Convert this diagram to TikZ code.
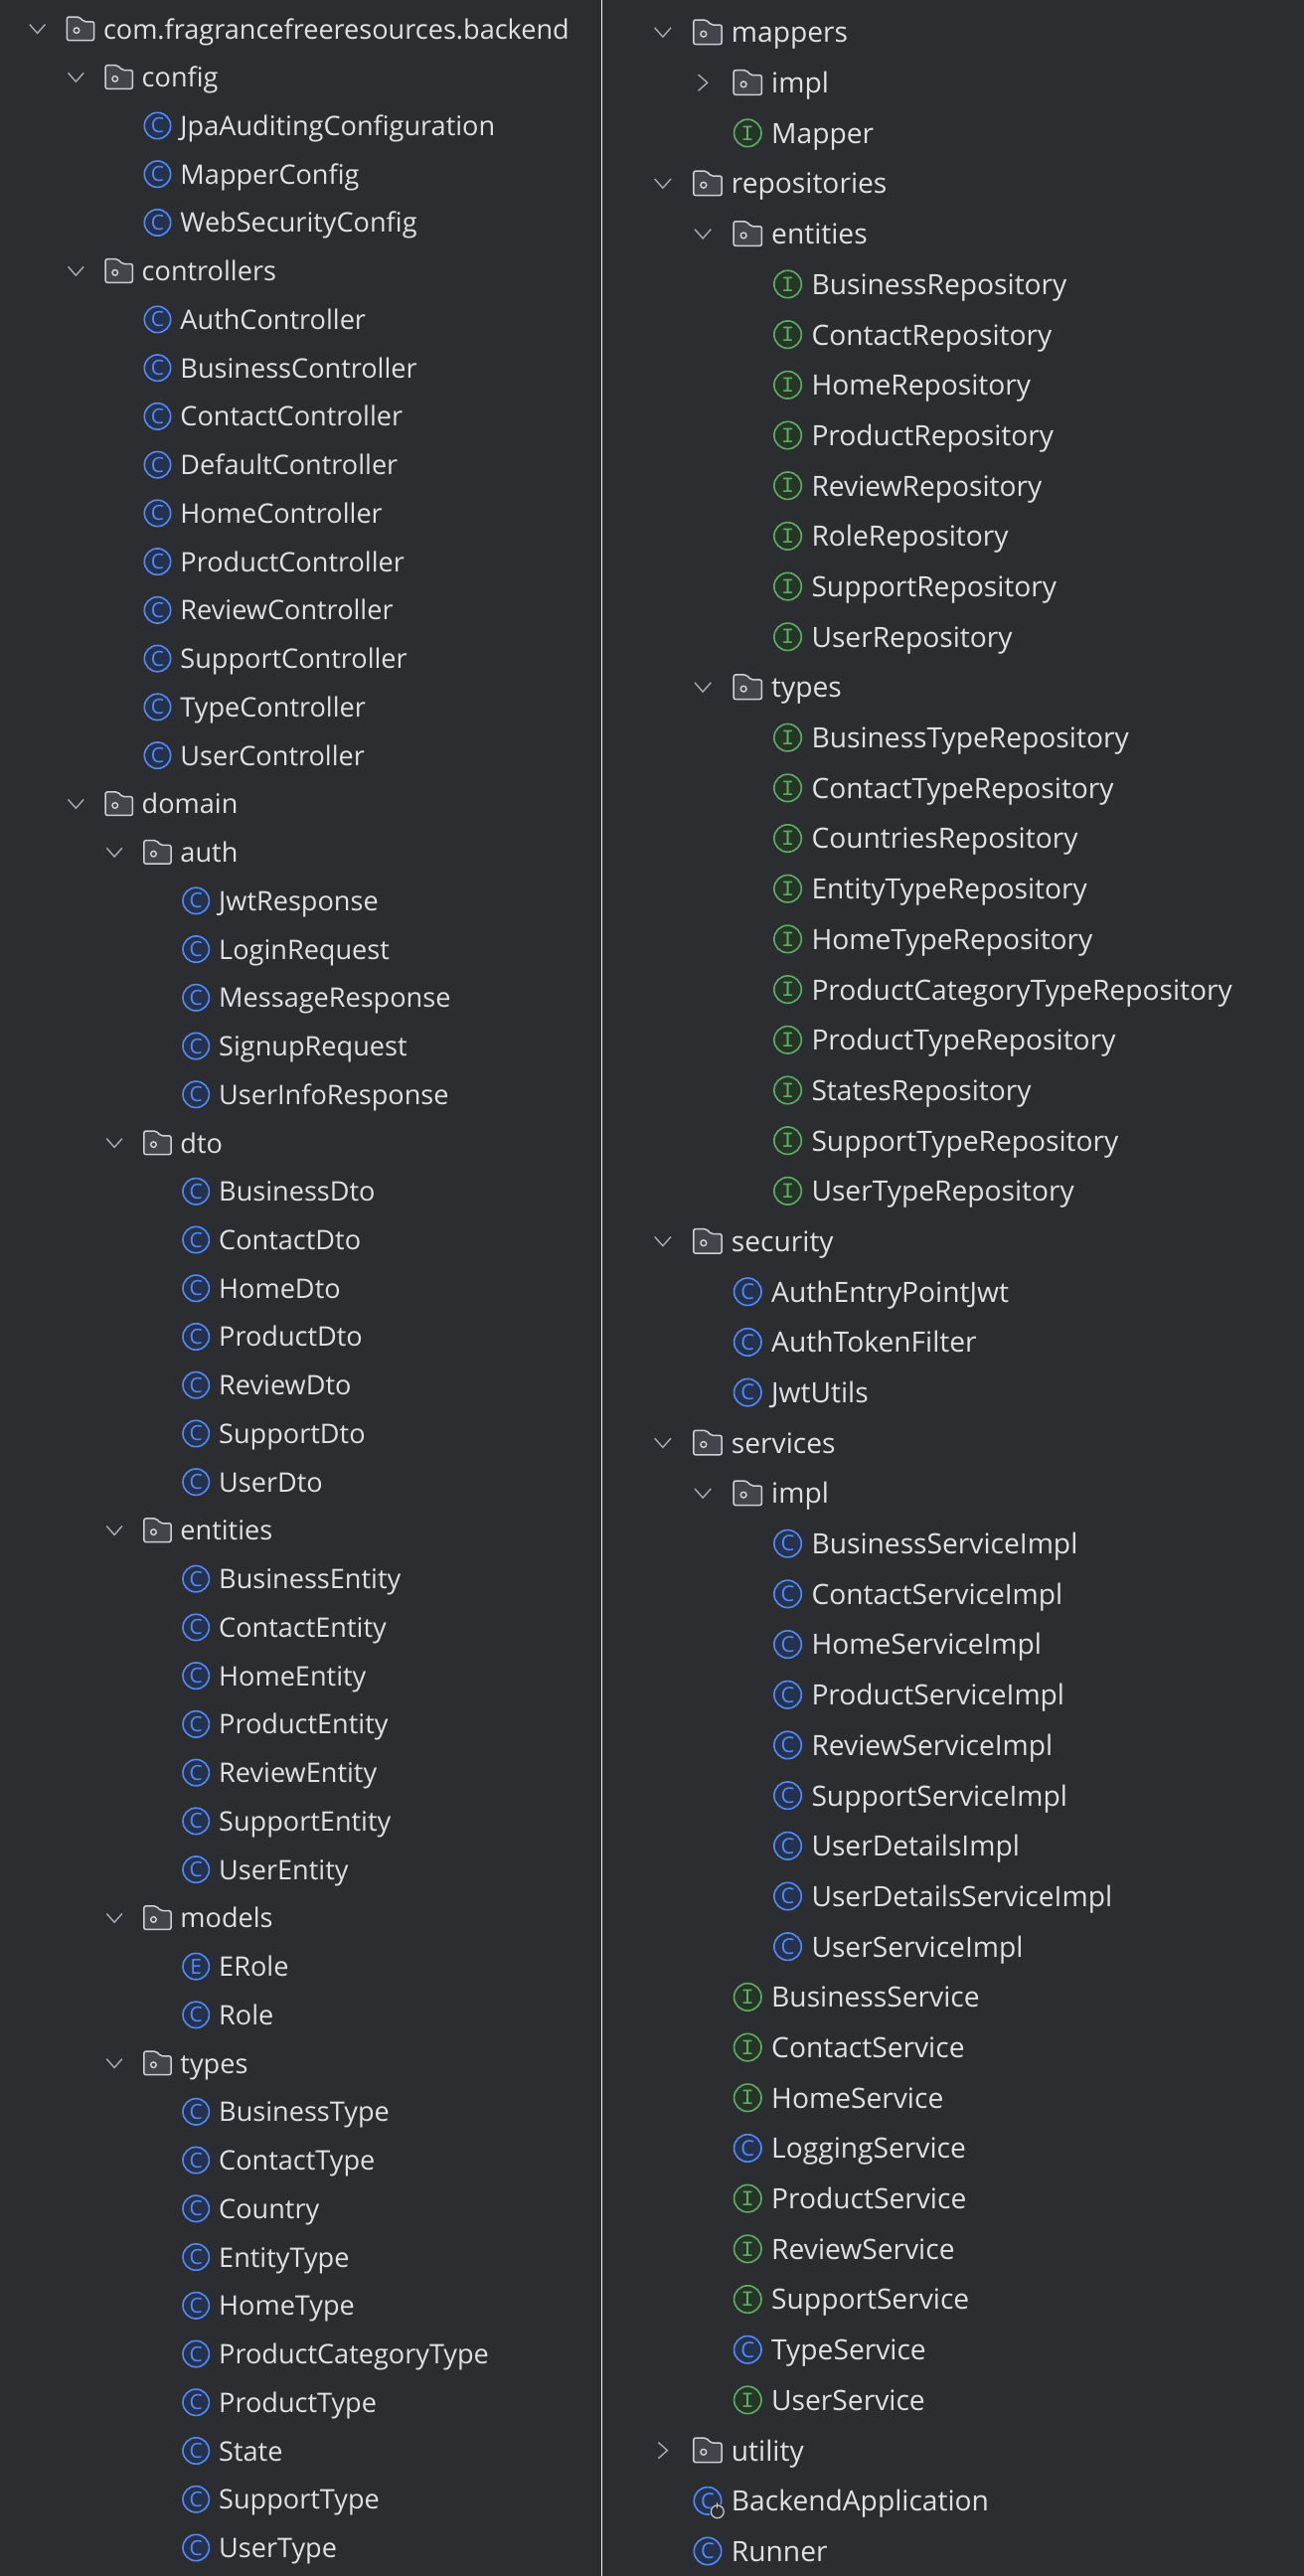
\documentclass[tikz,border=0pt]{standalone}
\usepackage{fontspec}
\setmainfont{Open Sans}
\newfontfamily\jmono{Liberation Mono}
\definecolor{jbg}{HTML}{2B2D30}
\definecolor{jink}{HTML}{DFE1E5}
\definecolor{jrule}{HTML}{F2F3F5}
\definecolor{jchev}{HTML}{A8ABB2}
\definecolor{jdirline}{HTML}{CED0D6}
\definecolor{jdirfill}{HTML}{43454A}
\definecolor{jblue}{HTML}{548AF7}
\definecolor{jbluef}{HTML}{25324D}
\definecolor{jgreen}{HTML}{5FAD65}
\definecolor{jgreenf}{HTML}{253627}
\tikzset{
  jtext/.style={anchor=base west,inner sep=0pt,text=jink,font=\fontsize{13.55}{15}\selectfont,xshift=11.3pt,yshift=-5pt},
  jicon/.style={circle,line width=0.8pt,minimum size=13.2pt,inner sep=0pt},
  jclass/.style={jicon,draw=jblue,fill=jbluef,text=jblue,font=\fontsize{10.5}{10}\selectfont},
  jiface/.style={jicon,draw=jgreen,fill=jgreenf,text=jgreen,font=\fontsize{10.5}{10}\selectfont\jmono},
  jfolder/.pic={
    \draw[jdirline,fill=jdirfill,line width=0.75pt,rounded corners=1pt]
      (-6.8pt,-5.8pt) -- (-6.8pt,6pt) -- (-0.6pt,6pt) -- (1.6pt,3.6pt) -- (6.8pt,3.6pt) -- (6.8pt,-5.8pt) -- cycle;
    \draw[jdirline,line width=0.7pt] (-2pt,-0.8pt) circle (1.4pt);},
  jopen/.pic={\draw[jchev,line width=0.7pt] (-3.9pt,2.2pt) -- (0pt,-2.2pt) -- (3.9pt,2.2pt);},
  jshut/.pic={\draw[jchev,line width=0.7pt] (-2.2pt,3.9pt) -- (2.2pt,0pt) -- (-2.2pt,-3.9pt);},
}
\newcommand{\jdir}[4]{% #1 = indent, #2 = row, #3 = chevron pic, #4 = label
  \pic at (#1,#2) {jfolder};
  \pic at ([xshift=-21.7pt]#1,#2) {#3};
  \node[jtext] (t#2) at (#1,#2) {#4};}
\newcommand{\jleaf}[5]{% #1 = indent, #2 = row, #3 = icon style, #4 = letter, #5 = label
  \node[#3] (k#2) at (#1,#2) {#4};
  \node[jtext] (t#2) at (#1,#2) {#5};}

\begin{document}
\begin{tikzpicture}[x=19.37pt,y=-24.37pt]
\fill[jbg] (0pt,0pt) rectangle (656pt,-1296pt);
\useasboundingbox (0pt,0pt) rectangle (656pt,-1296pt);
\coordinate (ruleA) at (302.8pt,0pt);
\coordinate (ruleB) at (302.8pt,-1296pt);
\draw[jrule,line width=0.8pt] (ruleA) -- (ruleB);
% left column
\begin{scope}[shift={(40.5pt,-14.5pt)},name prefix=L-]
\jdir{0}{0}{jopen}{com.fragrancefreeresources.backend}
\jdir{1}{1}{jopen}{config}
\foreach \R/\tl in {2/JpaAuditingConfiguration,3/MapperConfig,4/WebSecurityConfig}{
  \jleaf{2}{\R}{jclass}{C}{\tl}}
\jdir{1}{5}{jopen}{controllers}
\foreach \R/\tl in {6/AuthController,7/BusinessController,8/ContactController,9/DefaultController,10/HomeController,
    11/ProductController,12/ReviewController,13/SupportController,14/TypeController,15/UserController}{
  \jleaf{2}{\R}{jclass}{C}{\tl}}
\jdir{1}{16}{jopen}{domain}
\jdir{2}{17}{jopen}{auth}
\foreach \R/\tl in {18/JwtResponse,19/LoginRequest,20/MessageResponse,21/SignupRequest,22/UserInfoResponse,
    24/BusinessDto,25/ContactDto,26/HomeDto,27/ProductDto,28/ReviewDto,29/SupportDto,30/UserDto,
    32/BusinessEntity,33/ContactEntity,34/HomeEntity,35/ProductEntity,36/ReviewEntity,37/SupportEntity,38/UserEntity,
    41/Role,43/BusinessType,44/ContactType,45/Country,46/EntityType,47/HomeType,48/ProductCategoryType,
    49/ProductType,50/State,51/SupportType,52/UserType}{
  \jleaf{3}{\R}{jclass}{C}{\tl}}
\foreach \R/\tl in {23/dto,31/entities,39/models,42/types}{
  \jdir{2}{\R}{jopen}{\tl}}
\jleaf{3}{40}{jclass}{E}{ERole}
\end{scope}
% right column
\begin{scope}[shift={(356pt,-16.25pt)},scale=1.04,transform shape,name prefix=R-]
\jdir{0}{0}{jopen}{mappers}
\jdir{1}{1}{jshut}{impl}
\jleaf{1}{2}{jiface}{I}{Mapper}
\jdir{0}{3}{jopen}{repositories}
\jdir{1}{4}{jopen}{entities}
\foreach \R/\tl in {5/BusinessRepository,6/ContactRepository,7/HomeRepository,8/ProductRepository,9/ReviewRepository,
    10/RoleRepository,11/SupportRepository,12/UserRepository,
    14/BusinessTypeRepository,15/ContactTypeRepository,16/CountriesRepository,17/EntityTypeRepository,18/HomeTypeRepository,
    19/ProductCategoryTypeRepository,20/ProductTypeRepository,21/StatesRepository,22/SupportTypeRepository,23/UserTypeRepository}{
  \jleaf{2}{\R}{jiface}{I}{\tl}}
\jdir{1}{13}{jopen}{types}
\jdir{0}{24}{jopen}{security}
\foreach \R/\tl in {25/AuthEntryPointJwt,26/AuthTokenFilter,27/JwtUtils}{
  \jleaf{1}{\R}{jclass}{C}{\tl}}
\jdir{0}{28}{jopen}{services}
\jdir{1}{29}{jopen}{impl}
\foreach \R/\tl in {30/BusinessServiceImpl,31/ContactServiceImpl,32/HomeServiceImpl,33/ProductServiceImpl,34/ReviewServiceImpl,
    35/SupportServiceImpl,36/UserDetailsImpl,37/UserDetailsServiceImpl,38/UserServiceImpl}{
  \jleaf{2}{\R}{jclass}{C}{\tl}}
\foreach \R/\tl in {39/BusinessService,40/ContactService,41/HomeService,43/ProductService,44/ReviewService,45/SupportService,47/UserService}{
  \jleaf{1}{\R}{jiface}{I}{\tl}}
\foreach \R/\tl in {42/LoggingService,46/TypeService}{
  \jleaf{1}{\R}{jclass}{C}{\tl}}
\jdir{0}{48}{jshut}{utility}
\jleaf{0}{49}{jclass}{C}{BackendApplication}
\jleaf{0}{50}{jclass}{C}{Runner}
% run badge on the application class
\coordinate (badge) at ([shift={(4.7pt,-4.8pt)}]k49.center);
\fill[jbg] (badge) circle (3.8pt);
\draw[jdirline,line width=0.6pt] (badge) circle (3.1pt);
\draw[jdirline,line width=0.6pt] ([yshift=1.4pt]badge) -- ([yshift=4.5pt]badge);
\end{scope}
\end{tikzpicture}
\end{document}
